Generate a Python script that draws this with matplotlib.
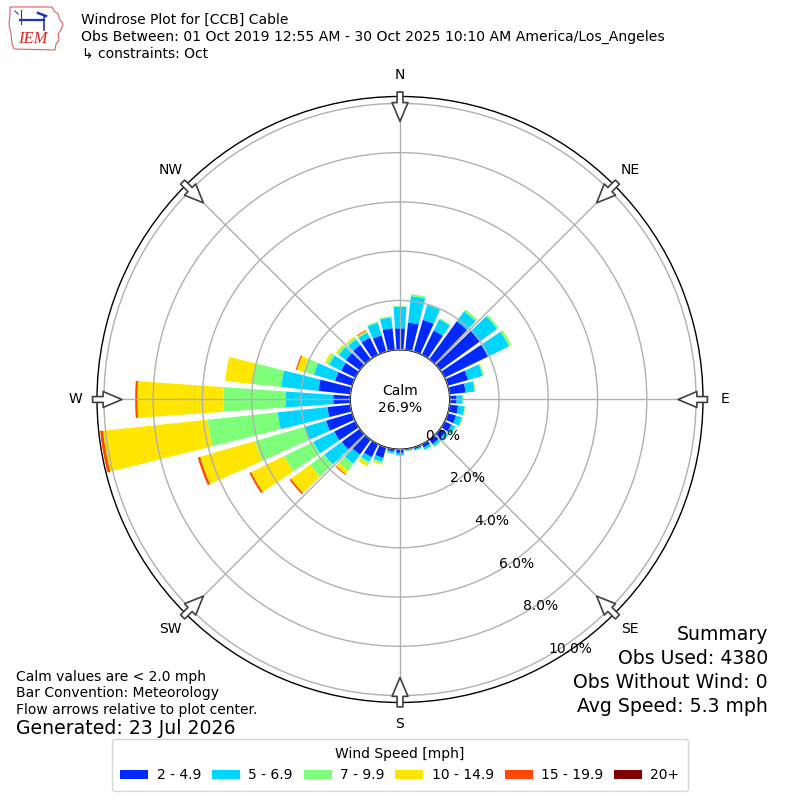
import numpy as np
import matplotlib
matplotlib.use("Agg")
import matplotlib.pyplot as plt
from matplotlib.patches import Patch, Polygon

# ---------------- data ----------------
directions = list(range(0, 360, 10))
speed_labels = ["2 - 4.9", "5 - 6.9", "7 - 9.9", "10 - 14.9", "15 - 19.9", "20+"]
s_2_5 = [0.87, 1.12, 1.34, 1.10, 1.90, 2.00, 1.95, 0.86, 0.66, 0.28, 0.35, 0.35,
         0.30, 0.25, 0.22, 0.15, 0.08, 0.05, 0.15, 0.10, 0.45, 0.59, 0.75, 0.90,
         0.95, 1.10, 0.94, 0.69, 1.31, 0.72, 0.64, 0.70, 0.72, 0.77, 0.69, 0.89]
s_5_7 = [0.88, 1.08, 0.63, 0.50, 0.50, 0.85, 0.95, 0.62, 0.37, 0.24, 0.27, 0.25,
         0.18, 0.15, 0.11, 0.10, 0.05, 0.03, 0.10, 0.08, 0.17, 0.21, 0.45, 0.88,
         0.95, 0.91, 2.03, 1.93, 1.52, 0.90, 0.54, 0.35, 0.28, 0.23, 0.53, 0.44]
s_7_10 = [0.03, 0.08, 0.03, 0.05, 0.10, 0.08, 0.10, 0.04, 0.02, 0.02, 0.02, 0.02,
          0.02, 0.03, 0.04, 0.04, 0.02, 0.02, 0.03, 0.04, 0.06, 0.08, 0.35, 0.71,
          1.31, 2.09, 2.86, 2.53, 1.19, 0.43, 0.12, 0.10, 0.10, 0.05, 0.05, 0.04]
s_10_15 = [0, 0, 0, 0, 0, 0, 0.02, 0.02, 0.02, 0.02, 0.02, 0.02,
           0.02, 0, 0, 0, 0, 0, 0, 0, 0.06, 0.12, 0.17, 0.96,
           1.49, 2.32, 4.27, 3.49, 1.10, 0.28, 0.08, 0.05, 0.05, 0.03, 0, 0]
s_15_20 = [0, 0, 0, 0, 0, 0, 0, 0, 0, 0, 0, 0,
           0, 0, 0, 0, 0, 0, 0, 0, 0, 0, 0.04, 0.07,
           0.08, 0.10, 0.12, 0.09, 0, 0.05, 0, 0, 0, 0.04, 0, 0]
s_20p = [0] * 36
speed_series = [s_2_5, s_5_7, s_7_10, s_10_15, s_15_20, s_20p]
ring_values = [0, 2, 4, 6, 8, 10]
ring_labels = ["0.0%", "2.0%", "4.0%", "6.0%", "8.0%", "10.0%"]
compass_angles = [0, 45, 90, 135, 180, 225, 270, 315]
compass_labels = ["N", "NE", "E", "SE", "S", "SW", "W", "NW"]
calm_pct = "26.9%"

# ---------------- figure ----------------
fig = plt.figure(figsize=(8, 8), dpi=100)
ax = fig.add_axes([0.12125, 0.1219, 0.7575, 0.7575], projection="polar")
ax.set_theta_zero_location("N")
ax.set_theta_direction(-1)
ax.set_rorigin(-2.02)
ax.set_ylim(0, 10.28)

jet = plt.get_cmap("jet")
colors = [jet(v) for v in np.linspace(0, 1, 7)[1:]]

theta = np.deg2rad(directions)
width = np.deg2rad(8.0)
bottom = np.zeros(len(directions))
for vals, c in zip(speed_series, colors):
    vals = np.asarray(vals, dtype=float)
    ax.bar(theta, vals, width=width, bottom=bottom, color=c, linewidth=0, zorder=2)
    bottom = bottom + vals

ax.set_axisbelow(False)
ax.grid(True, color="#b0b0b0", linewidth=1.0, zorder=3)
ax.set_thetagrids(compass_angles, labels=[""] * 8)
ax.set_rgrids(ring_values, labels=ring_labels, angle=150, fontsize=10)
ax.spines["polar"].set_color("black")
ax.spines["inner"].set_color("black")
ax.spines["polar"].set_linewidth(1.0)
ax.spines["inner"].set_linewidth(1.0)

# compass labels
for a, lab in zip(compass_angles, compass_labels):
    ax.text(np.deg2rad(a), 11.17, lab, ha="center", va="center", fontsize=10,
            clip_on=False)

# flow arrows pointing to center
for a in compass_angles:
    t = np.deg2rad(a)
    ax.annotate("", xy=(t, 9.27), xytext=(t, 10.46), annotation_clip=False,
                arrowprops=dict(arrowstyle="simple,head_length=1.35,head_width=1.15,tail_width=0.42",
                                fc="white", ec="#404040", lw=1.2,
                                shrinkA=0, shrinkB=0, mutation_scale=10),
                zorder=5)

ax.text(0.5, 0.5, "Calm\n" + calm_pct, transform=ax.transAxes, ha="center",
        va="center", fontsize=10, linespacing=1.2)

# ---------------- titles ----------------
fig.text(81 / 800, 1 - 20 / 800, "Windrose Plot for [CCB] Cable", va="center", fontsize=10)
fig.text(81 / 800, 1 - 37 / 800,
         "Obs Between: 01 Oct 2019 12:55 AM - 30 Oct 2025 10:10 AM America/Los_Angeles",
         va="center", fontsize=10.1)
fig.text(82 / 800, 1 - 54 / 800, "\u21b3 constraints: Oct", va="center", fontsize=10)

# logo
lax = fig.add_axes([8 / 800, 1 - 51 / 800, 58 / 800, 47 / 800])
lax.set_xlim(0, 58)
lax.set_ylim(47, 0)
lax.axis("off")
outline = [(2, 3), (44, 3), (46, 7), (50, 10), (52, 16), (55, 20), (53, 26),
           (50, 30), (51, 36), (48, 40), (47, 46), (6, 45), (4, 40), (3, 30),
           (1, 20), (2, 10)]
lax.add_patch(Polygon(outline, closed=True, fill=False, ec="#e06060", lw=0.8))
lax.plot([12, 36], [16, 16], color="#2233bb", lw=1.6)
lax.plot([36, 36], [12, 26], color="#2233bb", lw=1.2)
lax.plot([13, 13], [6, 20], color="#2233bb", lw=0.8)
lax.plot([30, 38], [9, 12], color="#2233bb", lw=1.8)
lax.plot([7, 10], [7, 10], color="#2233bb", lw=0.8)
lax.text(25, 35, "IEM", color="#dd2222", fontsize=12, ha="center", va="center",
         family="Liberation Serif", style="italic")

# ---------------- bottom text ----------------
fig.text(16 / 800, 1 - 677 / 800, "Calm values are < 2.0 mph", va="center", fontsize=10)
fig.text(16 / 800, 1 - 693 / 800, "Bar Convention: Meteorology", va="center", fontsize=10)
fig.text(16 / 800, 1 - 710 / 800, "Flow arrows relative to plot center.", va="center", fontsize=10)
fig.text(16 / 800, 1 - 729 / 800, "Generated: 23 Jul 2026", va="center", fontsize=13.6)

summary = ["Summary", "Obs Used: 4380", "Obs Without Wind: 0", "Avg Speed: 5.3 mph"]
for i, s in enumerate(summary):
    fig.text(768 / 800, 1 - (635 + 23.8 * i) / 800, s, ha="right", va="center",
             fontsize=13.6)

# ---------------- legend ----------------
handles = [Patch(facecolor=c, edgecolor="none") for c in colors]
fig.legend(handles, speed_labels, loc="lower center", bbox_to_anchor=(0.5, 0.003),
           ncol=6, title="Wind Speed [mph]", fontsize=10, title_fontsize=10,
           frameon=True, fancybox=True, edgecolor="#cccccc",
           handletextpad=0.6, columnspacing=0.8, borderpad=0.6)

fig.savefig("out.png", dpi=100)
